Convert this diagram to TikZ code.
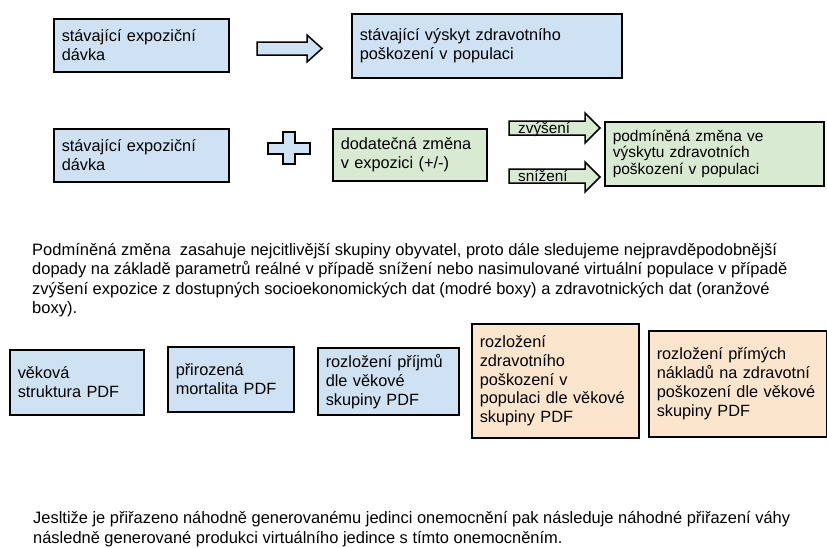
\documentclass[tikz,border=0pt]{standalone}
\usepackage{fontspec}
\setmainfont{Liberation Sans}
\usepackage{graphicx}
\definecolor{boxblue}{HTML}{CFE2F3}
\definecolor{boxgreen}{HTML}{D9EAD3}
\definecolor{boxorange}{HTML}{FCE5CD}
\newcommand\boxfont{\fontsize{16.3}{18.9}\selectfont}
\newcommand\smallboxfont{\fontsize{15.5}{16.6}\selectfont}
\newcommand\arrfont{\fontsize{15.3}{17}\selectfont}
\newcommand\parfont{\fontsize{16.5}{19.5}\selectfont}
\newlength\linewA
\newlength\linewB
\newsavebox\measurebox
\tikzset{
  box/.style={draw=black, line width=1.5pt, anchor=north west,
    inner xsep=8pt, inner ysep=0pt, align=left, font=\boxfont},
  blockarrow/.style={draw=black, line width=1.5pt, line join=miter},
  plain/.style={anchor=base west, inner sep=0pt},
}
\begin{document}
% narrow running text: horizontal scale factors
\sbox\measurebox{\parfont Podmíněná změna\ \ zasahuje nejcitlivější skupiny obyvatel, proto dále sledujeme nejpravděpodobnější}%
\setlength\linewA{\wd\measurebox}%
\sbox\measurebox{\parfont Jesltiže je přiřazeno náhodně generovanému jedinci onemocnění pak následuje náhodné přiřazení váhy}%
\setlength\linewB{\wd\measurebox}%
\pgfmathsetmacro\sxa{745/\linewA}%
\pgfmathsetmacro\sxb{757/\linewB}%
\begin{tikzpicture}[x=1pt,y=-1pt]
\useasboundingbox (0,0) rectangle (827,547);
\fill[white] (0,0) rectangle (827,547);

% first row
\node[box, fill=boxblue, minimum width=175pt, minimum height=53pt, text width=159pt]
  (dose1) at (53,18) {stávající expoziční\\dávka};
\node[box, fill=boxblue, minimum width=270pt, minimum height=64pt, text width=254pt]
  (incid) at (351,13) {stávající výskyt zdravotního\\poškození v populaci};
\draw[blockarrow, fill=boxblue]
  (257,42) -- (307,42) -- (307,35) -- (322,48.5) -- (307,62) -- (307,55) -- (257,55) -- cycle;

% second row
\node[box, fill=boxblue, minimum width=175pt, minimum height=53pt, text width=159pt]
  (dose2) at (53,128) {stávající expoziční\\dávka};
\draw[blockarrow, fill=boxblue]
  (283,132) -- (295,132) -- (295,143) -- (310,143) -- (310,154) -- (295,154) -- (295,164)
  -- (283,164) -- (283,154) -- (268,154) -- (268,143) -- (283,143) -- cycle;
\node[box, fill=boxgreen, minimum width=154pt, minimum height=52pt, text width=138pt]
  (delta) at (332,128) {dodatečná změna\\v expozici (+/-)};
\node[box, fill=boxgreen, minimum width=219pt, minimum height=64pt, text width=203pt, font=\smallboxfont]
  (cond) at (604,121) {podmíněná změna ve\\výskytu zdravotních\\poškození v populaci};
\draw[blockarrow, fill=boxgreen]
  (509,121) -- (585,121) -- (585,113) -- (600,128) -- (585,143) -- (585,135) -- (509,135) -- cycle;
\node[plain, font=\arrfont] (up) at (518,133) {zvýšení};
\draw[blockarrow, fill=boxgreen]
  (509,169) -- (585,169) -- (585,162) -- (600,177) -- (585,192) -- (585,183) -- (509,183) -- cycle;
\node[plain, font=\arrfont] (down) at (518,181) {snížení};

% explanatory paragraph
\node[plain] (p1) at (32,255) {\scalebox{\sxa}[1]{\parfont Podmíněná změna\ \ zasahuje nejcitlivější skupiny obyvatel, proto dále sledujeme nejpravděpodobnější}};
\node[plain] (p2) at (32,274.5) {\scalebox{\sxa}[1]{\parfont dopady na základě parametrů reálné v případě snížení nebo nasimulované virtuální populace v případě}};
\node[plain] (p3) at (32,294) {\scalebox{\sxa}[1]{\parfont zvýšení expozice z dostupných socioekonomických dat (modré boxy) a zdravotnických dat (oranžové}};
\node[plain] (p4) at (32,313.5) {\scalebox{\sxa}[1]{\parfont boxy).}};

% distribution boxes
\node[box, fill=boxblue, minimum width=134pt, minimum height=65pt, text width=118pt]
  (age) at (9,349) {věková\\struktura PDF};
\node[box, fill=boxblue, minimum width=126pt, minimum height=65pt, text width=110pt]
  (mort) at (167,346) {přirozená\\mortalita PDF};
\node[box, fill=boxblue, minimum width=141pt, minimum height=67pt, text width=125pt]
  (income) at (317,347) {rozložení příjmů\\dle věkové\\skupiny PDF};
\node[box, fill=boxorange, minimum width=167pt, minimum height=114pt, text width=151pt]
  (harm) at (471,323) {rozložení\\zdravotního\\poškození v\\populaci dle věkové\\skupiny PDF};
\node[box, fill=boxorange, minimum width=178pt, minimum height=106pt, text width=162pt]
  (cost) at (648,330) {rozložení přímých\\nákladů na zdravotní\\poškození dle věkové\\skupiny PDF};

% closing note
\node[plain] (q1) at (33,523.5) {\scalebox{\sxb}[1]{\parfont Jesltiže je přiřazeno náhodně generovanému jedinci onemocnění pak následuje náhodné přiřazení váhy}};
\node[plain] (q2) at (33,543) {\scalebox{\sxb}[1]{\parfont následně generované produkci virtuálního jedince s tímto onemocněním.}};
\end{tikzpicture}
\end{document}
